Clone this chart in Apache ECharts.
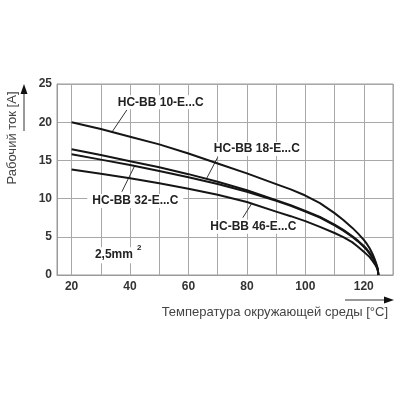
<!DOCTYPE html>
<html><head><meta charset="utf-8">
<script src="https://cdn.jsdelivr.net/npm/echarts@6/dist/echarts.min.js"></script>
<style>html,body{margin:0;padding:0;background:#fff}#c{width:400px;height:400px}</style>
</head><body><div id="c"></div>
<script>
const temps = [20, 30, 40, 50, 60, 70, 80, 90, 95, 100, 105, 110, 113, 116, 118, 120, 121, 122, 123, 123.5, 124, 124.5, 124.8, 125];
const hcbb10 = [20.0, 19.1, 18.1, 17.1, 15.9, 14.6, 13.3, 11.9, 11.2, 10.4, 9.4, 8.1, 7.2, 6.2, 5.45, 4.6, 4.1, 3.5, 2.75, 2.3, 1.8, 1.2, 0.75, 0];
const hcbb18 = [16.45, 15.7, 14.9, 14.1, 13.2, 12.2, 11.1, 9.8, 9.15, 8.4, 7.6, 6.6, 5.9, 5.1, 4.5, 3.8, 3.4, 2.9, 2.3, 2.0, 1.6, 1.1, 0.7, 0];
const hcbb32 = [15.8, 15.1, 14.4, 13.6, 12.8, 11.9, 10.9, 9.7, 9.05, 8.3, 7.5, 6.5, 5.8, 5.0, 4.4, 3.7, 3.3, 2.8, 2.25, 1.95, 1.55, 1.05, 0.7, 0];
const hcbb46 = [13.8, 13.25, 12.65, 12.0, 11.3, 10.5, 9.55, 8.3, 7.7, 7.05, 6.3, 5.5, 4.95, 4.3, 3.7, 3.05, 2.7, 2.35, 1.85, 1.6, 1.3, 0.9, 0.6, 0];
const seriesNames = ['HC-BB 10-E...C', 'HC-BB 18-E...C', 'HC-BB 32-E...C', 'HC-BB 46-E...C'];
const xLabelValues = [20, 40, 60, 80, 100, 120];
const xGridValues = [20, 30, 40, 50, 60, 70, 80, 90, 100, 110, 120, 130];
const yTitle = 'Рабочий ток [A]';
const xTitle = 'Температура окружающей среды [°C]';
const sectionLabel = '2,5mm';

const chart = echarts.init(document.getElementById('c'), null, {renderer: 'canvas'});
const font = '"Liberation Sans", Arial, sans-serif';
function pts(arr) { return temps.map((t, i) => [t, arr[i]]); }
const all = [hcbb10, hcbb18, hcbb32, hcbb46];

chart.setOption({
  animation: false,
  grid: {left: 57, right: 7, top: 84, bottom: 125, show: true, borderColor: '#9a9a9a', borderWidth: 1},
  xAxis: {
    type: 'value', min: 15, max: 130,
    axisLine: {show: true, lineStyle: {color: '#9a9a9a', width: 1}},
    axisTick: {show: false, customValues: xGridValues},
    axisLabel: {customValues: xLabelValues, color: '#333', fontWeight: 'bold', fontSize: 12, fontFamily: font, margin: 6},
    splitLine: {show: true, lineStyle: {color: '#a8a8a8', width: 1}}
  },
  yAxis: {
    type: 'value', min: 0, max: 25, interval: 5,
    axisLine: {show: true, lineStyle: {color: '#9a9a9a', width: 1}},
    axisTick: {show: false},
    axisLabel: {color: '#333', fontWeight: 'bold', fontSize: 12, fontFamily: font, margin: 5},
    splitLine: {show: true, lineStyle: {color: '#a8a8a8', width: 1}}
  },
  series: all.map((arr, i) => ({
    type: 'line', name: seriesNames[i], data: pts(arr), smooth: false, showSymbol: false,
    lineStyle: {color: '#151515', width: 2, join: 'round'}, z: 3
  }))
});

// annotations: label centre (data coords) and leader line (data coords)
const ann = [
  {text: seriesNames[0], at: [50.5, 22.6], from: [38.9, 21.6], to: [33.8, 18.7]},
  {text: seriesNames[1], at: [83.4, 16.5], from: [70.0, 15.4], to: [66.3, 12.7]},
  {text: seriesNames[2], at: [41.8, 9.7], from: [37.2, 10.9], to: [41.6, 14.3]},
  {text: seriesNames[3], at: [82.2, 6.3], from: [78.6, 7.5], to: [81.7, 9.4]}
];
const g = [];
ann.forEach(a => {
  const p = chart.convertToPixel({gridIndex: 0}, a.at);
  const f = chart.convertToPixel({gridIndex: 0}, a.from);
  const t = chart.convertToPixel({gridIndex: 0}, a.to);
  g.push({type: 'line', z: 1, shape: {x1: f[0], y1: f[1], x2: t[0], y2: t[1]}, style: {stroke: '#333', lineWidth: 1}});
  g.push({type: 'text', x: p[0], y: p[1], z: 1, style: {
    text: a.text, fill: '#222', font: 'bold 12px ' + font, align: 'center', verticalAlign: 'middle',
    backgroundColor: '#fff', padding: [1, 5]
  }});
});
const sp = chart.convertToPixel({gridIndex: 0}, [27.3, 2.6]);
g.push({type: 'text', x: sp[0], y: sp[1], z: 1, style: {text: sectionLabel, fill: '#222', font: 'bold 12px ' + font, align: 'left', verticalAlign: 'middle', backgroundColor: '#fff', padding: [2, 2]}});
g.push({type: 'text', x: sp[0] + 44, y: sp[1] - 7, z: 2, style: {text: '2', fill: '#222', font: 'bold 8px ' + font, align: 'left', verticalAlign: 'middle'}});
// Y axis title and arrow
g.push({type: 'text', x: 12, y: 138, rotation: Math.PI / 2, style: {text: yTitle, fill: '#444', font: '13px ' + font, align: 'center', verticalAlign: 'middle'}});
g.push({type: 'line', shape: {x1: 24, y1: 131, x2: 24, y2: 92}, style: {stroke: '#333', lineWidth: 1}});
g.push({type: 'polygon', shape: {points: [[24, 84], [20.5, 94], [27.5, 94]]}, style: {fill: '#111'}});
// X axis title and arrow
g.push({type: 'text', x: 388, y: 312, style: {text: xTitle, fill: '#444', font: '13px ' + font, align: 'right', verticalAlign: 'middle'}});
g.push({type: 'line', shape: {x1: 345, y1: 300, x2: 384, y2: 300}, style: {stroke: '#333', lineWidth: 1}});
g.push({type: 'polygon', shape: {points: [[394, 300], [384, 296.5], [384, 303.5]]}, style: {fill: '#111'}});
chart.setOption({graphic: g});
</script>
</body></html>
